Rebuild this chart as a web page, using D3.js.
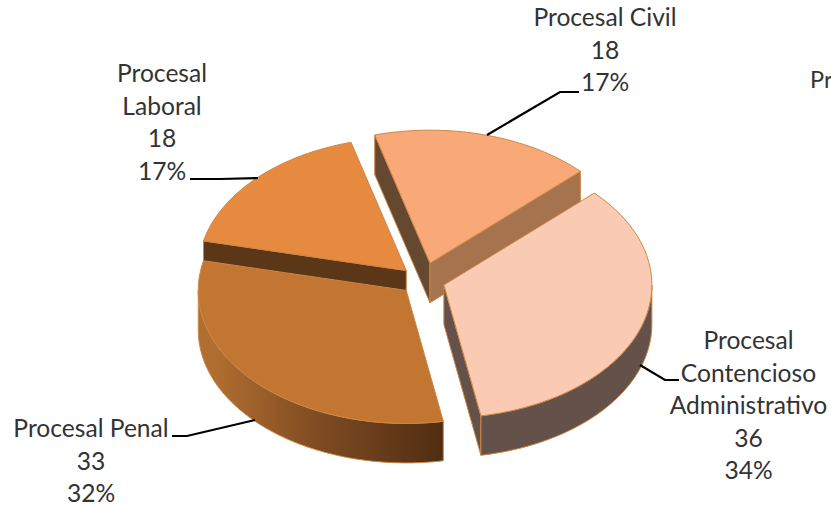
<!DOCTYPE html>
<html>
<head>
<meta charset="utf-8">
<title>Procesos</title>
<script src="https://cdn.jsdelivr.net/npm/d3@7"></script>
<style>
    html, body { margin: 0; padding: 0; background: #fff; overflow: hidden; }
    svg { display: block; }
    .label { font-family: Lato, "Open Sans", sans-serif; font-size: 24.6px; fill: #333; text-anchor: middle; }
    .leader { fill: none; stroke: #000; stroke-width: 2.2; }
</style>
</head>
<body>
<script>
// Data, clockwise from the top
let categories = ['Procesal Civil', 'Procesal Contencioso Administrativo', 'Procesal Penal', 'Procesal Laboral'];
let values = [18, 36, 33, 18];
let percents = ['17%', '34%', '32%', '17%'];
let clippedLabel = 'Pr';

let width = 831;
let height = 506;

// Pie geometry
let cx = 422.5;
let cy = 280.5;
let rx = 208;
let ry = 133;
let depth = 39.5;
let startDeg = -15.4;
let explode = [0.135, 0.108, 0.108, 0.108];

let topColors = ['#F9A877', '#FBCAB3', '#C27632', '#E68A3F'];
let rimColor = '#CC8646';

let svg = d3.select('body').append('svg')
    .attr('width', width)
    .attr('height', height);

let xScale = d3.scaleLinear().domain([-1, 1]).range([cx - rx, cx + rx]);
let yScale = d3.scaleLinear().domain([-1, 1]).range([cy - ry, cy + ry]);

let pie = d3.pie()
    .sort(null)
    .startAngle(startDeg * Math.PI / 180)
    .endAngle((startDeg + 360) * Math.PI / 180);

let slices = pie(values).map((d, i) => {
    let mid = (d.startAngle + d.endAngle) / 2;
    return {
        index: i,
        start: d.startAngle,
        end: d.endAngle,
        // exploded offset of the apex, in unit circle coordinates
        ox: explode[i] * Math.sin(mid),
        oy: -explode[i] * Math.cos(mid)
    };
});

function project(s, angle, z) {
    return [xScale(Math.sin(angle) + s.ox), yScale(-Math.cos(angle) + s.oy) + z];
}

function apex(s, z) {
    return [xScale(s.ox), yScale(s.oy) + z];
}

function arcPoints(s, a0, a1, z) {
    let n = 80;
    return d3.range(n + 1).map(k => project(s, a0 + (a1 - a0) * k / n, z));
}

let line = d3.line();

function topPath(s) {
    return line([apex(s, 0)].concat(arcPoints(s, s.start, s.end, 0))) + 'Z';
}

// wall along one radius
function radiusWall(s, angle) {
    return line([apex(s, 0), project(s, angle, 0), project(s, angle, depth), apex(s, depth)]) + 'Z';
}

// wall along the outer edge between two angles
function outerWall(s, a0, a1) {
    return line(arcPoints(s, a0, a1, 0).concat(arcPoints(s, a1, a0, depth))) + 'Z';
}

// Gradient of the Penal outer wall
let grad = svg.append('defs').append('linearGradient')
    .attr('id', 'penalWall')
    .attr('gradientUnits', 'userSpaceOnUse')
    .attr('x1', xScale(-1))
    .attr('x2', xScale(0.12))
    .attr('y1', 0)
    .attr('y2', 0);
grad.append('stop').attr('offset', '0%').attr('stop-color', '#B06E30');
grad.append('stop').attr('offset', '45%').attr('stop-color', '#7E4B22');
grad.append('stop').attr('offset', '100%').attr('stop-color', '#4E2C11');

function addPath(group, d, fill) {
    group.append('path')
        .attr('d', d)
        .attr('fill', fill)
        .attr('stroke', rimColor)
        .attr('stroke-width', 1)
        .attr('stroke-linejoin', 'round');
}

// Walls that face the viewer, for each slice
let wallBuilders = [
    (g, s) => {
        addPath(g, radiusWall(s, s.start), '#654830');
        addPath(g, radiusWall(s, s.end), '#A6734F');
    },
    (g, s) => {
        addPath(g, radiusWall(s, s.end), '#64514A');
        addPath(g, outerWall(s, Math.PI / 2, s.end), '#64514A');
    },
    (g, s) => {
        addPath(g, outerWall(s, s.start, Math.PI * 1.5), 'url(#penalWall)');
    },
    (g, s) => {
        addPath(g, radiusWall(s, s.start), '#5B3718');
    }
];

// Back to front: Laboral, Civil, Penal, Contencioso
[3, 0, 2, 1].forEach(i => {
    let s = slices[i];
    let g = svg.append('g').attr('class', 'slice');
    wallBuilders[i](g, s);
    addPath(g, topPath(s), topColors[i]);
});

// Leader lines
let leaders = [
    [[487, 135], [560, 92], [579, 92]],
    [[640, 365], [665, 380], [679, 380]],
    [[255, 420], [187, 436], [172, 436]],
    [[258, 178], [220, 179], [190, 179]]
];

svg.selectAll('path.leader')
    .data(leaders)
    .enter().append('path')
    .attr('class', 'leader')
    .attr('d', d => line(d));

// Labels
let labelLines = [
    ['Procesal Civil'],
    ['Procesal', 'Contencioso', 'Administrativo'],
    ['Procesal Penal'],
    ['Procesal', 'Laboral']
];
let labelPos = [
    {x: 605, y: 26},
    {x: 748.5, y: 349},
    {x: 91, y: 437},
    {x: 162, y: 82}
];
let lineStep = 32.5;

categories.forEach((name, i) => {
    let rows = labelLines[i].concat([String(values[i]), percents[i]]);
    let text = svg.append('text')
        .attr('class', 'label')
        .attr('aria-label', name);
    rows.forEach((row, k) => {
        text.append('tspan')
            .attr('x', labelPos[i].x)
            .attr('y', labelPos[i].y + k * lineStep)
            .text(row);
    });
});

svg.append('text')
    .attr('class', 'label')
    .style('text-anchor', 'start')
    .style('font-size', '23.5px')
    .attr('x', 810)
    .attr('y', 88)
    .text(clippedLabel);
</script>
</body>
</html>
